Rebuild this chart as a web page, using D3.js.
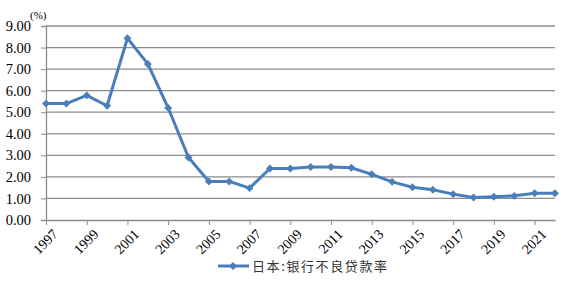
<!DOCTYPE html>
<html><head><meta charset="utf-8">
<script src="https://cdn.jsdelivr.net/npm/d3@7"></script>
<style>body{margin:0;background:#fff;}</style>
</head><body>
<svg id="c" width="575" height="283"></svg>
<script>
const years = [1997,1998,1999,2000,2001,2002,2003,2004,2005,2006,2007,2008,2009,2010,2011,2012,2013,2014,2015,2016,2017,2018,2019,2020,2021,2022];
const values = [5.40,5.40,5.78,5.30,8.43,7.24,5.20,2.90,1.79,1.79,1.48,2.39,2.39,2.46,2.46,2.42,2.12,1.77,1.52,1.40,1.20,1.04,1.08,1.12,1.24,1.24];
const yTicks = [0,1,2,3,4,5,6,7,8,9];
const xTickYears = [1997,1999,2001,2003,2005,2007,2009,2011,2013,2015,2017,2019,2021];
const seriesName = "日本:银行不良贷款率";
const unitLabel = "(%)";

const svg = d3.select("#c");
const L = 46, R = 555, T = 26, B = 220;
const x = d3.scaleLinear().domain([1997, 2022]).range([L, R]);
const y = d3.scaleLinear().domain([0, 9]).range([B, T]);
const color = "#4a7ebb";
const serif = "'Liberation Serif','Times New Roman',serif";

// gridlines
svg.append("g").selectAll("line").data(yTicks.filter(d => d > 0)).join("line")
  .attr("x1", L).attr("x2", R).attr("y1", d => y(d)).attr("y2", d => y(d))
  .attr("stroke", "#8c8c8c").attr("stroke-width", 1.3);

// y axis
const ya = svg.append("g").attr("transform", `translate(${L},0)`)
  .call(d3.axisLeft(y).tickValues(yTicks).tickFormat(d3.format(".2f")).tickSize(5).tickPadding(10));
ya.select(".domain").attr("stroke", "#8c8c8c").attr("stroke-width", 1.3);
ya.selectAll(".tick line").attr("stroke", "#8c8c8c");
ya.selectAll("text").attr("font-family", serif).attr("font-size", 14.5).attr("fill", "#000");

// x axis
const xa = svg.append("g").attr("transform", `translate(0,${B})`)
  .call(d3.axisBottom(x).tickValues(xTickYears).tickFormat(d3.format("d")).tickSize(5).tickSizeOuter(0));
xa.select(".domain").attr("stroke", "#8c8c8c").attr("stroke-width", 1.3);
xa.selectAll(".tick line").attr("stroke", "#8c8c8c");
xa.selectAll("text").attr("font-family", serif).attr("font-size", 14).attr("fill", "#000")
  .attr("text-anchor", "end").attr("dy", "0.35em")
  .attr("transform", "translate(3,6) rotate(-45)");

// unit label
svg.append("text").attr("x", 30).attr("y", 19).text(unitLabel)
  .attr("font-family", serif).attr("font-size", 11).attr("fill", "#000");

// line
const line = d3.line().x((d, i) => x(years[i])).y(d => y(d));
svg.append("path").datum(values).attr("d", line)
  .attr("fill", "none").attr("stroke", color).attr("stroke-width", 3).attr("stroke-linejoin", "round");

const diamond = d3.symbol().type(d3.symbolDiamond2).size(40);
svg.append("g").selectAll("path").data(values).join("path")
  .attr("d", diamond)
  .attr("transform", (d, i) => `translate(${x(years[i])},${y(d)})`)
  .attr("fill", color);

// legend
const lg = svg.append("g").attr("transform", "translate(218,266)");
lg.append("line").attr("x1", 0).attr("x2", 31).attr("y1", 0).attr("y2", 0)
  .attr("stroke", color).attr("stroke-width", 3);
lg.append("path").attr("d", diamond).attr("transform", "translate(15,0)").attr("fill", color);
lg.append("text").attr("x", 34).attr("y", 0).attr("dy", "0.35em").text(seriesName)
  .attr("font-family", "'Noto Sans CJK SC',sans-serif").attr("font-size", 13).attr("letter-spacing", 1.6).attr("fill", "#333");
</script>
</body></html>
